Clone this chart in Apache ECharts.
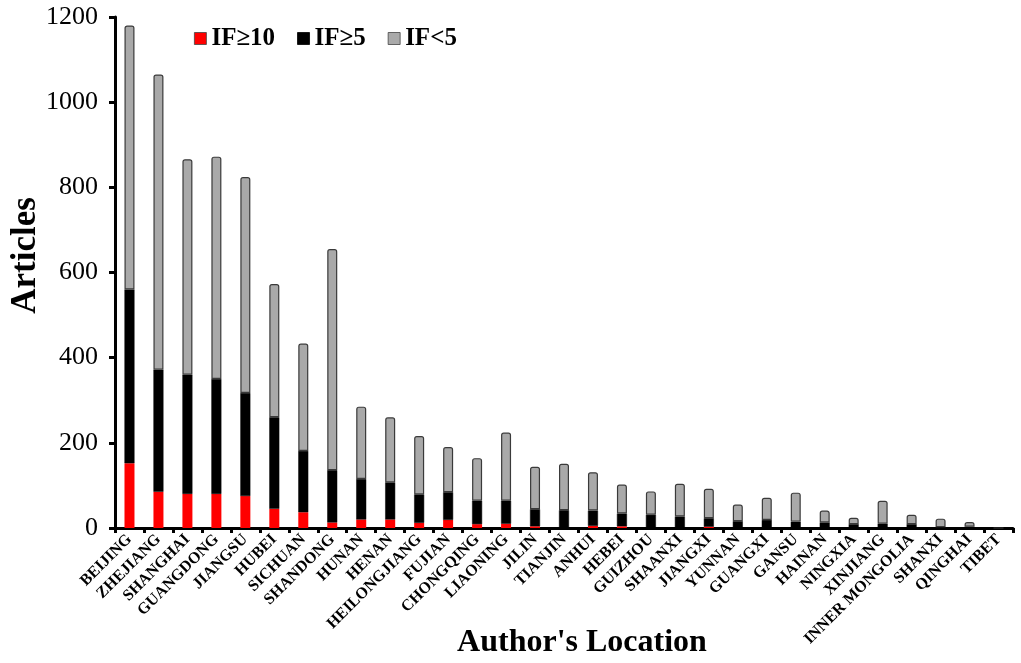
<!DOCTYPE html>
<html>
<head>
<meta charset="utf-8">
<script src="https://cdn.jsdelivr.net/npm/echarts@6/dist/echarts.min.js"></script>
<style>html,body{margin:0;padding:0;background:#fff}#c{width:1021px;height:663px}</style>
</head>
<body>
<div id="c"></div>
<script>
var categories = ["BEIJING","ZHEJIANG","SHANGHAI","GUANGDONG","JIANGSU","HUBEI","SICHUAN","SHANDONG","HUNAN","HENAN","HEILONGJIANG","FUJIAN","CHONGQING","LIAONING","JILIN","TIANJIN","ANHUI","HEBEI","GUIZHOU","SHAANXI","JIANGXI","YUNNAN","GUANGXI","GANSU","HAINAN","NINGXIA","XINJIANG","INNER MONGOLIA","SHANXI","QINGHAI","TIBET"];
var if10 = [152,85,80,80,75,45,37,13,20,20,12,19,9,10,4,0,5,4,0,0,3,0,0,0,0,0,0,0,0,0,0];
var if5 = [408,287,280,270,242,215,144,123,95,87,67,65,55,54,40,42,36,30,31,27,20,16,19,15,13,9,10,9,2,3,0];
var ifLow = [620,693,506,522,507,313,252,519,170,153,137,106,100,160,100,109,90,68,55,77,69,39,52,68,28,15,54,22,20,11,0];
var yTicks = [0,200,400,600,800,1000,1200];

var serif = "'Liberation Serif','DejaVu Serif',serif";
var chart = echarts.init(document.getElementById('c'));
chart.setOption({
  animation: false,
  backgroundColor: '#fff',
  grid: {left: 115, right: 8, top: 17, bottom: 135, containLabel: false, outerBoundsMode: 'none'},
  legend: {
    top: 21, left: 189,
    itemWidth: 12, itemHeight: 12, itemGap: 22,
    textStyle: {fontFamily: serif, fontWeight: 'bold', fontSize: 25, color: '#000', padding: [0,0,0,0]},
    data: [
      {name: 'IF≥10', icon: 'rect', itemStyle: {color: '#ff0000', borderColor: '#444', borderWidth: 0.8}},
      {name: 'IF≥5', icon: 'rect', itemStyle: {color: '#000', borderColor: '#000', borderWidth: 0.8}},
      {name: 'IF<5', icon: 'rect', itemStyle: {color: '#aaa', borderColor: '#444', borderWidth: 0.8}}
    ]
  },
  xAxis: {
    type: 'category',
    data: categories,
    boundaryGap: true,
    name: "Author's Location",
    nameLocation: 'middle',
    nameGap: 99,
    nameMoveOverlap: false,
    nameTextStyle: {fontFamily: serif, fontWeight: 'bold', fontSize: 32, color: '#000', padding: [0,0,0,36]},
    axisLine: {lineStyle: {color: '#000', width: 3}},
    axisTick: {show: true, alignWithLabel: false, length: 5, lineStyle: {color: '#000', width: 3}},
    axisLabel: {interval: 0, rotate: 45, fontFamily: serif, fontWeight: 'bold', fontSize: 16, color: '#000', margin: 9}
  },
  yAxis: {
    type: 'value',
    min: 0, max: 1200, interval: 200,
    name: 'Articles',
    nameLocation: 'middle',
    nameGap: 72,
    nameMoveOverlap: false,
    nameTextStyle: {fontFamily: serif, fontWeight: 'bold', fontSize: 35, color: '#000', padding: [0,0,0,34]},
    axisLine: {show: true, lineStyle: {color: '#000', width: 3}},
    axisTick: {show: true, length: 6, lineStyle: {color: '#000', width: 3}},
    splitLine: {show: false},
    axisLabel: {fontFamily: serif, fontSize: 26, color: '#000', margin: 17,
      formatter: function (v) { return yTicks.indexOf(v) >= 0 ? String(v) : ''; }}
  },
  series: [
    {name: 'IF≥10', type: 'bar', stack: 'a', data: if10, barWidth: 10,
      itemStyle: {color: '#ff0000'}},
    {name: 'IF≥5', type: 'bar', stack: 'a', data: if5, barWidth: 10,
      itemStyle: {color: '#000', borderColor: '#000', borderWidth: 0.5}},
    {name: 'IF<5', type: 'bar', stack: 'a', data: ifLow, barWidth: 10,
      itemStyle: {color: '#a9a9a9', borderColor: '#3a3a3a', borderWidth: 1.2, borderRadius: [2,2,0,0]}}
  ]
});
</script>
</body>
</html>
